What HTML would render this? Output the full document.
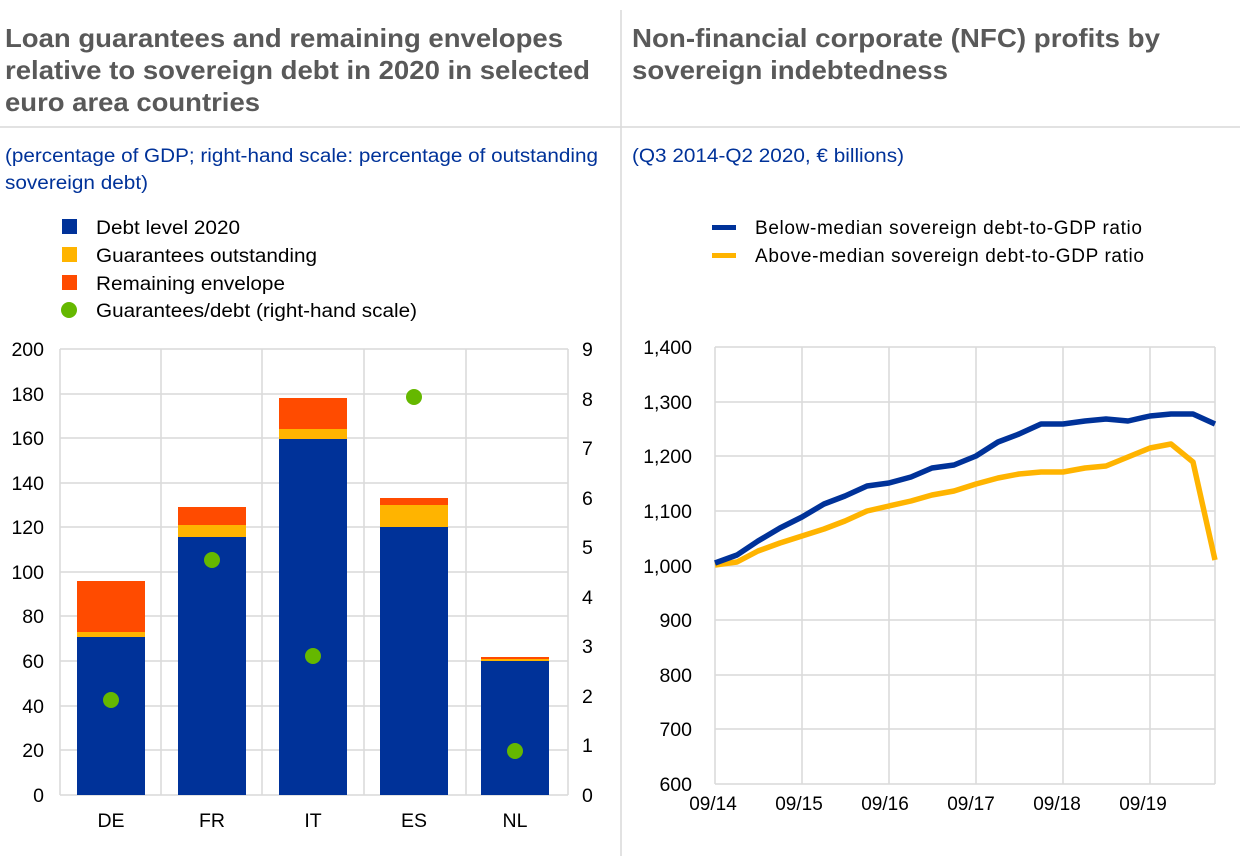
<!DOCTYPE html>
<html><head><meta charset="utf-8"><style>
body{margin:0;background:#fff;}
svg text{font-family:"Liberation Sans",Arial,sans-serif;}
</style></head><body>
<svg width="1240" height="856" xmlns="http://www.w3.org/2000/svg">
<rect width="1240" height="856" fill="#fff"/>
<line x1="621" y1="10" x2="621" y2="856" stroke="#d9d9d9" stroke-width="1.5"/>
<line x1="0" y1="127" x2="1240" y2="127" stroke="#d9d9d9" stroke-width="1.5"/>
<g font-size="26" font-weight="bold" fill="#595959" lengthAdjust="spacingAndGlyphs">
<text x="5" y="47" textLength="558" lengthAdjust="spacingAndGlyphs">Loan guarantees and remaining envelopes</text>
<text x="5" y="79" textLength="585" lengthAdjust="spacingAndGlyphs">relative to sovereign debt in 2020 in selected</text>
<text x="5" y="111" textLength="255" lengthAdjust="spacingAndGlyphs">euro area countries</text>
<text x="632" y="47" textLength="528" lengthAdjust="spacingAndGlyphs">Non-financial corporate (NFC) profits by</text>
<text x="632" y="79" textLength="316" lengthAdjust="spacingAndGlyphs">sovereign indebtedness</text>
</g>
<g font-size="19" fill="#003299">
<text x="5" y="162" textLength="593" lengthAdjust="spacingAndGlyphs">(percentage of GDP; right-hand scale: percentage of outstanding</text>
<text x="5" y="189" textLength="143" lengthAdjust="spacingAndGlyphs">sovereign debt)</text>
<text x="632" y="162" textLength="272" lengthAdjust="spacingAndGlyphs">(Q3 2014-Q2 2020, € billions)</text>
</g>
<g font-size="19" fill="#000">
<rect x="62" y="219" width="15" height="15" fill="#003299"/><text x="96" y="234" textLength="144" lengthAdjust="spacingAndGlyphs">Debt level 2020</text>
<rect x="62" y="247" width="15" height="15" fill="#ffb400"/><text x="96" y="262" textLength="221" lengthAdjust="spacingAndGlyphs">Guarantees outstanding</text>
<rect x="62" y="275" width="15" height="15" fill="#ff4b00"/><text x="96" y="290" textLength="189" lengthAdjust="spacingAndGlyphs">Remaining envelope</text>
<circle cx="69" cy="310" r="8" fill="#65b800"/><text x="96" y="317" textLength="321" lengthAdjust="spacingAndGlyphs">Guarantees/debt (right-hand scale)</text>
<rect x="712" y="225" width="24" height="5" fill="#003299"/><text x="755" y="234" textLength="387" lengthAdjust="spacing">Below-median sovereign debt-to-GDP ratio</text>
<rect x="712" y="253" width="24" height="5" fill="#ffb400"/><text x="755" y="262" textLength="389" lengthAdjust="spacing">Above-median sovereign debt-to-GDP ratio</text>
</g>
<g stroke="#d9d9d9" stroke-width="1.5">
<line x1="60" y1="349" x2="568" y2="349"/><line x1="60" y1="394" x2="568" y2="394"/><line x1="60" y1="438" x2="568" y2="438"/><line x1="60" y1="483" x2="568" y2="483"/><line x1="60" y1="527" x2="568" y2="527"/><line x1="60" y1="572" x2="568" y2="572"/><line x1="60" y1="616" x2="568" y2="616"/><line x1="60" y1="661" x2="568" y2="661"/><line x1="60" y1="706" x2="568" y2="706"/><line x1="60" y1="750" x2="568" y2="750"/><line x1="60" y1="795" x2="568" y2="795"/>
<line x1="60" y1="349" x2="60" y2="795"/><line x1="161" y1="349" x2="161" y2="795"/><line x1="262" y1="349" x2="262" y2="795"/><line x1="364" y1="349" x2="364" y2="795"/><line x1="466" y1="349" x2="466" y2="795"/><line x1="568" y1="349" x2="568" y2="795"/>
</g>
<g>
<rect x="77" y="581" width="68" height="51" fill="#ff4b00"/><rect x="77" y="632" width="68" height="5" fill="#ffb400"/><rect x="77" y="637" width="68" height="158" fill="#003299"/>
<rect x="178" y="507" width="68" height="18" fill="#ff4b00"/><rect x="178" y="525" width="68" height="12" fill="#ffb400"/><rect x="178" y="537" width="68" height="258" fill="#003299"/>
<rect x="279" y="398" width="68" height="31" fill="#ff4b00"/><rect x="279" y="429" width="68" height="10" fill="#ffb400"/><rect x="279" y="439" width="68" height="356" fill="#003299"/>
<rect x="380" y="498" width="68" height="7" fill="#ff4b00"/><rect x="380" y="505" width="68" height="22" fill="#ffb400"/><rect x="380" y="527" width="68" height="268" fill="#003299"/>
<rect x="481" y="657" width="68" height="2" fill="#ff4b00"/><rect x="481" y="659" width="68" height="2" fill="#ffb400"/><rect x="481" y="661" width="68" height="134" fill="#003299"/>
</g>
<g fill="#65b800"><circle cx="111" cy="700" r="8"/><circle cx="212" cy="560" r="8"/><circle cx="313" cy="656" r="8"/><circle cx="414" cy="397" r="8"/><circle cx="515" cy="751" r="8"/></g>
<g font-size="19.5" fill="#000" text-anchor="end">
<text x="44" y="356">200</text><text x="44" y="401">180</text><text x="44" y="445">160</text><text x="44" y="490">140</text><text x="44" y="534">120</text><text x="44" y="579">100</text><text x="44" y="623">80</text><text x="44" y="668">60</text><text x="44" y="713">40</text><text x="44" y="757">20</text><text x="44" y="802">0</text>
</g>
<g font-size="19.5" fill="#000">
<text x="582" y="356">9</text><text x="582" y="406">8</text><text x="582" y="455">7</text><text x="582" y="505">6</text><text x="582" y="554">5</text><text x="582" y="604">4</text><text x="582" y="653">3</text><text x="582" y="703">2</text><text x="582" y="752">1</text><text x="582" y="802">0</text>
</g>
<g font-size="19.5" fill="#000" text-anchor="middle">
<text x="111" y="827">DE</text><text x="212" y="827">FR</text><text x="313" y="827">IT</text><text x="414" y="827">ES</text><text x="515" y="827">NL</text>
</g>
<g stroke="#d9d9d9" stroke-width="1.5">
<line x1="715" y1="347" x2="1215" y2="347"/><line x1="715" y1="402" x2="1215" y2="402"/><line x1="715" y1="456" x2="1215" y2="456"/><line x1="715" y1="511" x2="1215" y2="511"/><line x1="715" y1="566" x2="1215" y2="566"/><line x1="715" y1="620" x2="1215" y2="620"/><line x1="715" y1="675" x2="1215" y2="675"/><line x1="715" y1="729" x2="1215" y2="729"/><line x1="715" y1="784" x2="1215" y2="784"/>
<line x1="715" y1="347" x2="715" y2="784"/><line x1="802" y1="347" x2="802" y2="784"/><line x1="889" y1="347" x2="889" y2="784"/><line x1="976" y1="347" x2="976" y2="784"/><line x1="1063" y1="347" x2="1063" y2="784"/><line x1="1150" y1="347" x2="1150" y2="784"/><line x1="1215" y1="347" x2="1215" y2="784"/>
</g>
<g font-size="19.5" fill="#000" text-anchor="end">
<text x="692" y="354">1,400</text><text x="692" y="409">1,300</text><text x="692" y="463">1,200</text><text x="692" y="518">1,100</text><text x="692" y="573">1,000</text><text x="692" y="627">900</text><text x="692" y="682">800</text><text x="692" y="736">700</text><text x="692" y="791">600</text>
</g>
<g font-size="19" fill="#000" text-anchor="middle">
<text x="713" y="810">09/14</text><text x="799" y="810">09/15</text><text x="885" y="810">09/16</text><text x="971" y="810">09/17</text><text x="1057" y="810">09/18</text><text x="1143" y="810">09/19</text>
</g>
<polyline fill="none" stroke="#ffb400" stroke-width="5.5" stroke-linejoin="round" points="715,565 737,562 758,551 780,543 802,536 824,529 845,521 867,511 889,506 911,501 932,495 954,491 976,484 998,478 1019,474 1041,472 1063,472 1085,468 1106,466 1128,457 1150,448 1171,444 1193,462 1215,560"/>
<polyline fill="none" stroke="#003299" stroke-width="5.5" stroke-linejoin="round" points="715,563 737,555 758,541 780,528 802,517 824,504 845,496 867,486 889,483 911,477 932,468 954,465 976,456 998,442 1019,434 1041,424 1063,424 1085,421 1106,419 1128,421 1150,416 1171,414 1193,414 1215,424"/>
</svg>
</body></html>
